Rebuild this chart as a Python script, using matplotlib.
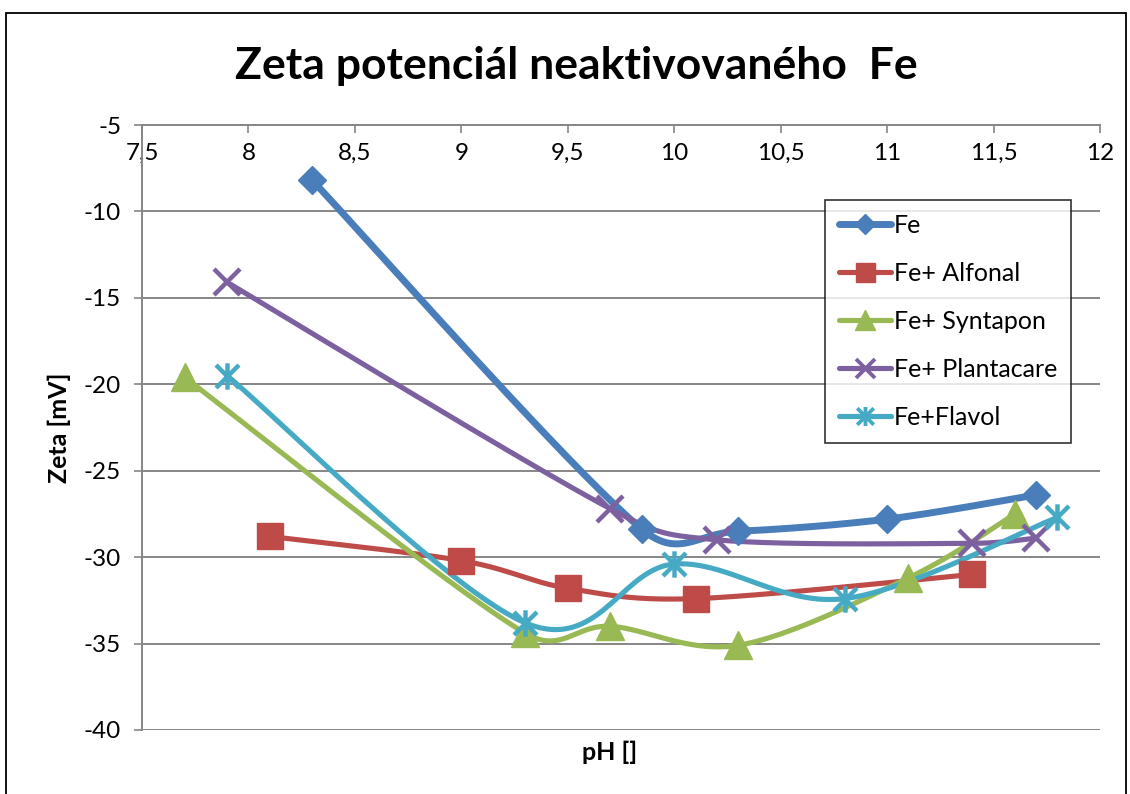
import matplotlib
matplotlib.use("Agg")
import matplotlib.pyplot as plt
import numpy as np
from matplotlib.lines import Line2D
from matplotlib.patches import Rectangle
from matplotlib.path import Path
from matplotlib.ticker import FuncFormatter

# pH values and zeta potentials [mV] per series
fe_ph = [8.3, 9.85, 10.3, 11.0, 11.7]
fe_zeta = [-8.2, -28.4, -28.5, -27.8, -26.4]

alfonal_ph = [8.1, 9.0, 9.5, 10.1, 11.4]
alfonal_zeta = [-28.8, -30.2, -31.8, -32.4, -31.0]

syntapon_ph = [7.7, 9.3, 9.7, 10.3, 11.1, 11.6]
syntapon_zeta = [-19.6, -34.4, -34.0, -35.1, -31.2, -27.5]

plantacare_ph = [7.9, 9.7, 10.2, 11.4, 11.7]
plantacare_zeta = [-14.1, -27.2, -29.0, -29.2, -28.9]

flavol_ph = [7.9, 9.3, 10.0, 10.8, 11.8]
flavol_zeta = [-19.5, -33.8, -30.4, -32.4, -27.7]

LABELS = ["Fe", "Fe+ Alfonal", "Fe+ Syntapon", "Fe+ Plantacare", "Fe+Flavol"]
COLORS = ["#4A7EBB", "#BE4B48", "#98B954", "#7D60A0", "#46AAC5"]

ASTERISK = Path(
    [(-1, -1), (1, 1), (-1, 1), (1, -1), (0, -1.15), (0, 1.15)],
    [Path.MOVETO, Path.LINETO, Path.MOVETO, Path.LINETO, Path.MOVETO, Path.LINETO],
)


def smooth(ax, xs, ys, steps=40):
    # Excel-like smoothed line, built in pixel space: Catmull-Rom tangents
    # with control arms capped at half of the adjacent segment
    pix = ax.transData.transform(np.column_stack([xs, ys]).astype(float))
    n = len(pix)
    c_out = pix.copy()
    c_in = pix.copy()
    for i in range(n):
        prev = pix[max(i - 1, 0)]
        nxt = pix[min(i + 1, n - 1)]
        tang = nxt - prev
        length = np.hypot(*tang)
        if length == 0:
            continue
        unit = tang / length
        d_prev = np.hypot(*(pix[i] - prev))
        d_next = np.hypot(*(nxt - pix[i]))
        c_out[i] = pix[i] + unit * min(length / 6, d_next / 2)
        c_in[i] = pix[i] - unit * min(length / 6, d_prev / 2)
    t = np.linspace(0, 1, steps)[:, None]
    out = []
    for i in range(n - 1):
        p0, c1, c2, p1 = pix[i], c_out[i], c_in[i + 1], pix[i + 1]
        seg = ((1 - t) ** 3) * p0 + 3 * ((1 - t) ** 2) * t * c1 + 3 * (1 - t) * t**2 * c2 + t**3 * p1
        out.append(seg if i == 0 else seg[1:])
    data = ax.transData.inverted().transform(np.vstack(out))
    return data[:, 0], data[:, 1]


plt.rcParams["font.family"] = ["Lato", "DejaVu Sans"]

fig = plt.figure(figsize=(11.3, 7.94), dpi=100)
ax = fig.add_axes([142 / 1130, 1 - 730 / 794, 958 / 1130, 605 / 794])
ax.set_xlim(7.5, 12)
ax.set_ylim(-40, -5)

series = [
    (fe_ph, fe_zeta, "D", 14, 5.0, 0),
    (alfonal_ph, alfonal_zeta, "s", 19, 3.7, 0),
    (syntapon_ph, syntapon_zeta, "^", 20, 3.7, 0),
    (plantacare_ph, plantacare_zeta, "x", 19, 3.7, 3.2),
    (flavol_ph, flavol_zeta, ASTERISK, 19, 3.7, 3.2),
]

handles = []
for (xs, ys, marker, ms, lw, mew), color, label in zip(series, COLORS, LABELS):
    sx, sy = smooth(ax, xs, ys)
    ax.plot(sx, sy, color=color, lw=lw, solid_capstyle="round", zorder=3)
    if mew:
        ax.plot(xs, ys, ls="none", marker=marker, ms=ms, mec=color, mew=mew,
                mfc="none", zorder=4)
    else:
        ax.plot(xs, ys, ls="none", marker=marker, ms=ms, color=color,
                mec=color, mew=1, zorder=4)
    handles.append(
        Line2D([], [], color=color, lw=lw, marker=marker, ms=ms * 0.72,
               mec=color, mfc=color if not mew else "none",
               mew=mew * 0.85 if mew else 1, solid_capstyle="round")
    )

ax.set_xticks(np.arange(7.5, 12.01, 0.5))
ax.set_yticks(np.arange(-40, -4, 5))
ax.xaxis.set_major_formatter(FuncFormatter(lambda v, p: f"{v:g}".replace(".", ",")))
ax.yaxis.set_major_formatter(FuncFormatter(lambda v, p: f"{v:g}"))

# x axis crosses at the top (-5), labels sit below it as in Excel
ax.spines["bottom"].set_position(("data", -5))
ax.spines["top"].set_visible(False)
ax.spines["right"].set_visible(False)
for side in ("bottom", "left"):
    ax.spines[side].set_color("#868686")
    ax.spines[side].set_linewidth(1.4)
ax.tick_params(axis="both", direction="out", length=6, width=1.2, color="#868686",
               labelsize=17.5, labelcolor="black")
ax.tick_params(axis="x", pad=7)
ax.tick_params(axis="y", pad=9)
ax.grid(axis="y", color="#868686", lw=1.4, zorder=1)
ax.set_axisbelow(True)

fig.text(59 / 1130, 1 - 428 / 794, "Zeta [mV]", rotation=90, ha="center", va="center",
         fontsize=18, fontweight="bold")
fig.text(610 / 1130, 1 - 752 / 794, "pH []", ha="center", va="center",
         fontsize=18, fontweight="bold")
fig.text(576 / 1130, 1 - 66 / 794, "Zeta potenciál neaktivovaného  Fe", ha="center",
         va="center", fontsize=32, fontweight="bold")

leg = ax.legend(handles, LABELS, loc="upper left", bbox_to_anchor=(0.713, 0.876),
                fontsize=18, frameon=True, fancybox=False, edgecolor="black",
                handlelength=2.1, handletextpad=0.1, labelspacing=1.0,
                borderpad=0.55, borderaxespad=0)
leg.get_frame().set_linewidth(1.2)
leg.set_zorder(6)

fig.patches.append(Rectangle((6 / 1130, -0.05), 1120 / 1130, 1 - 13 / 794 + 0.05,
                             transform=fig.transFigure, fill=False, ec="black", lw=1.3))

fig.savefig("out.png", dpi=100)
